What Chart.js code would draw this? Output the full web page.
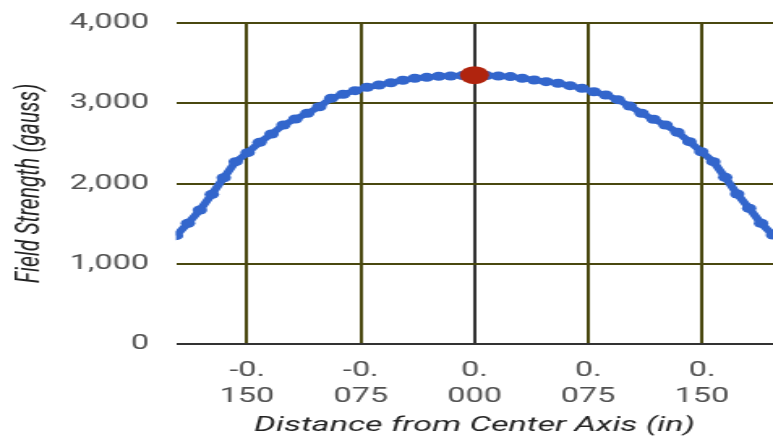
<!DOCTYPE html>
<html>
<head>
<meta charset="utf-8">
<script src="https://cdn.jsdelivr.net/npm/chart.js@4/dist/chart.umd.min.js"></script>
<style>
  html, body { margin: 0; padding: 0; background: #fff; overflow: hidden; }
  #fieldChart { display: block; }
</style>
</head>
<body>
<!-- the reference looks horizontally stretched, so draw narrow and widen with css -->
<canvas id="fieldChart" width="477" height="436" style="width:773px;height:436px"></canvas>
<script>
// distance from center axis (in), one point every 0.2 mm
const distances = [
  -0.19685, -0.18898, -0.18110, -0.17323, -0.16535, -0.15748, -0.14961, -0.14173, -0.13386,
  -0.12598, -0.11811, -0.11024, -0.10236, -0.09449, -0.08661, -0.07874, -0.07087, -0.06299,
  -0.05512, -0.04724, -0.03937, -0.03150, -0.02362, -0.01575, -0.00787, 0,
  0.00787, 0.01575, 0.02362, 0.03150, 0.03937, 0.04724, 0.05512, 0.06299, 0.07087,
  0.07874, 0.08661, 0.09449, 0.10236, 0.11024, 0.11811, 0.12598, 0.13386, 0.14173,
  0.14961, 0.15748, 0.16535, 0.17323, 0.18110, 0.18898, 0.19685
];
// field strength (gauss)
const strengths = [
  1350, 1504, 1670, 1865, 2072, 2272, 2384, 2513, 2617,
  2729, 2804, 2875, 2957, 3062, 3112, 3157, 3199, 3227,
  3256, 3286, 3311, 3323, 3336, 3340, 3345, 3350,
  3345, 3340, 3332, 3311, 3290, 3269, 3249, 3219, 3186,
  3144, 3103, 3045, 2965, 2875, 2800, 2729, 2638, 2521,
  2396, 2272, 2077, 1869, 1691, 1504, 1358
];
// highlighted point
const peakX = [0];
const peakY = [3350];

const xTickValues = [-0.15, -0.075, 0, 0.075, 0.15];
const xTickLabels = [['-0.', '150'], ['-0.', '075'], ['0.', '000'], ['0.', '075'], ['0.', '150']];
const yTickValues = [0, 1000, 2000, 3000, 4000];
const yTickLabels = ['0', '1,000', '2,000', '3,000', '4,000'];

const gridOlive = '#4a4810';
const axisDark = '#333333';

const linePoints = distances.map((d, i) => ({ x: d, y: strengths[i] }));
const peakPoints = peakX.map((d, i) => ({ x: d, y: peakY[i] }));

new Chart(document.getElementById('fieldChart'), {
  type: 'line',
  data: {
    datasets: [
      {
        data: peakPoints,
        order: 0,
        showLine: false,
        pointRadius: 9,
        pointBackgroundColor: '#b0240e',
        pointBorderWidth: 0
      },
      {
        data: linePoints,
        order: 1,
        borderColor: '#3366cc',
        borderWidth: 5.5,
        pointRadius: 4.5,
        pointBackgroundColor: '#3366cc',
        pointBorderWidth: 0,
        tension: 0
      }
    ]
  },
  options: {
    responsive: false,
    devicePixelRatio: 1,
    animation: false,
    layout: { autoPadding: false, padding: { top: 23, right: 0, bottom: 0, left: 0 } },
    plugins: { legend: { display: false }, tooltip: { enabled: false } },
    scales: {
      x: {
        type: 'linear',
        min: distances[0],
        max: distances[distances.length - 1],
        afterBuildTicks: s => { s.ticks = xTickValues.map(v => ({ value: v })); },
        afterFit: s => { s.height = 92; s.paddingLeft = 0; s.paddingRight = 0; },
        border: { display: false },
        grid: {
          drawTicks: false,
          lineWidth: 2,
          color: c => (c.tick && c.tick.value === 0 ? axisDark : gridOlive)
        },
        ticks: {
          padding: 14,
          maxRotation: 0,
          autoSkip: false,
          color: '#505050',
          font: { family: 'Roboto', size: 20, lineHeight: 1.3 },
          callback: v => xTickLabels[xTickValues.indexOf(v)]
        },
        title: {
          display: true,
          text: 'Distance from Center Axis (in)',
          color: '#222222',
          padding: 0,
          font: { family: 'Roboto', size: 21, style: 'italic', lineHeight: 1 }
        }
      },
      y: {
        min: 0,
        max: 4000,
        afterBuildTicks: s => { s.ticks = yTickValues.map(v => ({ value: v })); },
        // fixed width, and no extra top room for the top label
        afterFit: s => { s.width = 108.6; s.paddingTop = 0; s.paddingBottom = 0; },
        border: { display: false },
        grid: {
          drawTicks: false,
          lineWidth: 2,
          color: c => (c.tick && c.tick.value === 0 ? axisDark : gridOlive)
        },
        ticks: {
          padding: 16.7,
          color: '#505050',
          font: { family: 'Roboto', size: 20 },
          callback: v => yTickLabels[yTickValues.indexOf(v)]
        },
        title: {
          display: true,
          text: 'Field Strength (gauss)',
          color: '#222222',
          padding: { top: 6.2, bottom: 0 },
          font: { family: 'Roboto', size: 21, style: 'italic', lineHeight: 1.2 }
        }
      }
    }
  }
});
</script>
</body>
</html>
